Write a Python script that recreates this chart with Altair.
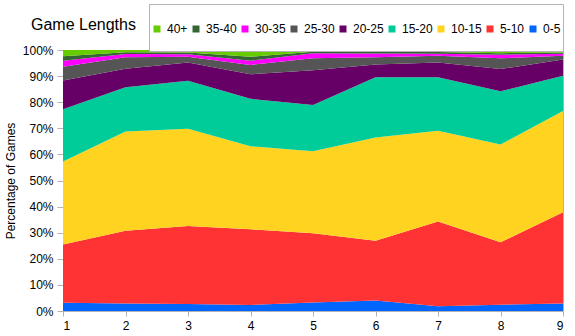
import altair as alt
import pandas as pd

games = [1, 2, 3, 4, 5, 6, 7, 8, 9]
buckets = ["0-5", "5-10", "10-15", "15-20", "20-25", "25-30", "30-35", "35-40", "40+"]
colors = ["#0066ff", "#ff3333", "#ffd320", "#00cc99", "#660066",
          "#555555", "#ff00ff", "#336633", "#66cc00"]

# percentage of games per length bucket, for each x (1..9)
v_0_5   = [3.2, 2.9, 2.7, 2.3, 3.3, 4.0, 1.8, 2.4, 2.9]
v_5_10  = [22.3, 27.8, 29.9, 29.0, 26.5, 22.9, 32.5, 23.9, 34.9]
v_10_15 = [31.8, 38.1, 37.2, 31.8, 31.4, 39.6, 34.8, 37.5, 38.8]
v_15_20 = [20.0, 16.9, 18.4, 18.2, 17.7, 23.1, 20.5, 20.4, 13.5]
v_20_25 = [11.0, 7.1, 7.0, 9.4, 13.3, 4.8, 5.6, 8.5, 6.3]
v_25_30 = [5.3, 4.4, 2.2, 3.6, 4.6, 2.8, 2.6, 4.1, 1.4]
v_30_35 = [2.3, 1.3, 1.0, 1.6, 2.0, 1.5, 0.8, 1.4, 0.8]
v_35_40 = [1.7, 0.6, 0.6, 1.5, 0.5, 0.5, 0.6, 0.6, 0.4]
v_40p   = [2.4, 0.9, 1.0, 2.6, 0.7, 0.8, 0.8, 1.2, 1.0]

series = [v_0_5, v_5_10, v_10_15, v_15_20, v_20_25, v_25_30, v_30_35, v_35_40, v_40p]

rows = []
for i, (b, vals) in enumerate(zip(buckets, series)):
    for g, v in zip(games, vals):
        rows.append({"game": g, "bucket": b, "pct": v, "idx": i})
df = pd.DataFrame(rows)

legend_order = buckets[::-1]
legend_colors = colors[::-1]

font = "Liberation Sans"

chart = alt.Chart(df).mark_area(interpolate="linear").encode(
    x=alt.X("game:Q",
            scale=alt.Scale(domain=[1, 9], nice=False, zero=False),
            axis=alt.Axis(values=games, format="d", title=None, grid=False,
                          labelFontSize=12, labelFont=font, labelColor="#000000",
                          tickSize=5, labelPadding=4, tickColor="#b3b3b3",
                          domainColor="#b3b3b3")),
    y=alt.Y("pct:Q", stack="normalize",
            scale=alt.Scale(domain=[0, 1], nice=False),
            axis=alt.Axis(format=".0%", values=[i / 10 for i in range(11)],
                          title="Percentage of Games", grid=False,
                          labelFontSize=12, labelFont=font, labelColor="#000000",
                          titleFontSize=12, titleFont=font, titleFontWeight="normal",
                          titleColor="#000000", titlePadding=5,
                          tickSize=6, labelPadding=4, tickColor="#b3b3b3",
                          domainColor="#b3b3b3")),
    color=alt.Color("bucket:N",
                    scale=alt.Scale(domain=legend_order, range=legend_colors),
                    legend=alt.Legend(orient="none", legendX=86, legendY=-46,
                                      direction="horizontal",
                                      gridAlign="none",
                                      labelExpr="[datum.label, '']",
                                      title=" ", titleFontSize=10, titlePadding=7,
                                      symbolType="square",
                                      symbolSize=49, symbolStrokeWidth=0,
                                      labelFontSize=12, labelFont=font,
                                      labelColor="#000000", labelOffset=4,
                                      columnPadding=2, padding=2,
                                      strokeColor="#b3b3b3", fillColor="#ffffff")),
    order=alt.Order("idx:Q", sort="ascending"),
).properties(
    width=500, height=261,
    title=alt.TitleParams("Game Lengths", anchor="start", frame="group",
                          dx=-32, dy=42, offset=0, baseline="alphabetic",
                          fontSize=16, font=font,
                          fontWeight="normal", color="#000000"),
    autosize=alt.AutoSizeParams(type="none"),
    padding={"left": 63, "top": 50, "right": 12, "bottom": 25},
).configure_view(stroke="#b3b3b3", strokeWidth=1)

chart.save("out.html", embed_options={"renderer": "svg", "actions": False})
